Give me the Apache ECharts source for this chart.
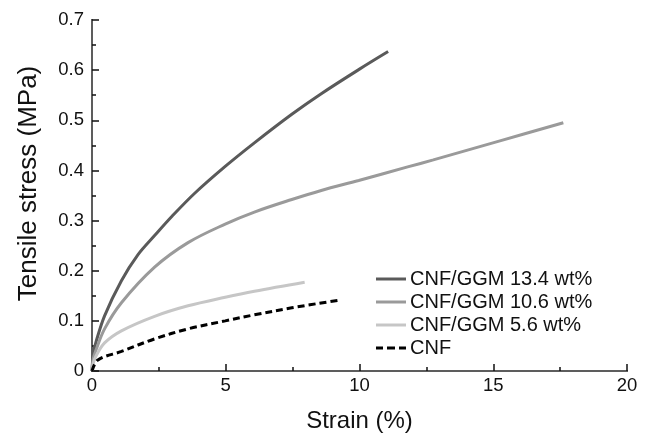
<!DOCTYPE html>
<html>
<head>
<meta charset="utf-8">
<script src="https://cdn.jsdelivr.net/npm/echarts@6/dist/echarts.min.js"></script>
<style>
  html, body { margin: 0; padding: 0; background: #fff; }
  #main { width: 646px; height: 438px; }
</style>
</head>
<body>
<div id="main"></div>
<script>
// 数据
var names = ["CNF/GGM 13.4 wt%", "CNF/GGM 10.6 wt%", "CNF/GGM 5.6 wt%", "CNF"];

var strain134 = [0, 0.05, 0.15, 0.47, 1.1, 1.72, 2.34, 3.0, 3.83, 4.98, 6.07, 7.47, 8.57, 9.97, 11.07];
var stress134 = [0, 0.035, 0.058, 0.11, 0.18, 0.232, 0.27, 0.309, 0.354, 0.408, 0.455, 0.512, 0.553, 0.601, 0.637];

var strain106 = [0, 0.05, 0.15, 0.47, 1.1, 2.34, 3.59, 4.98, 6.07, 7.47, 8.57, 9.97, 11.8, 12.76, 15.25, 17.62];
var stress106 = [0, 0.025, 0.042, 0.084, 0.136, 0.207, 0.256, 0.293, 0.317, 0.342, 0.36, 0.38, 0.407, 0.421, 0.459, 0.495];

var strain56 = [0, 0.05, 0.15, 0.47, 1.1, 2.34, 3.59, 4.98, 6.07, 7.95];
var stress56 = [0, 0.016, 0.03, 0.056, 0.08, 0.109, 0.13, 0.147, 0.159, 0.177];

var strainCNF = [0, 0.22, 1.1, 2.34, 3.59, 4.98, 6.07, 7.47, 9.2];
var stressCNF = [0, 0.022, 0.039, 0.064, 0.084, 0.1, 0.112, 0.126, 0.141];

var lineColors = ["#5a5a5a", "#9a9a9a", "#c6c6c6", "#000000"];

function pairs(xs, ys) {
  var out = [];
  for (var i = 0; i < xs.length; i++) out.push([xs[i], ys[i]]);
  return out;
}

var myChart = echarts.init(document.getElementById("main"));

var font = "Liberation Sans, Arial, sans-serif";

// 图例图标：实线和虚线
var solidIcon = "path://M0,0h30v3h-30z";
var dashIcon = "path://M0,0h7v3h-7z M11,0h8v3h-8z M23,0h7v3h-7z";

function makeSeries(i, xs, ys, dash) {
  return {
    name: names[i],
    type: "line",
    symbol: "none",
    smooth: 0.35,
    data: pairs(xs, ys),
    lineStyle: { color: lineColors[i], width: 3, type: dash || "solid" },
    itemStyle: { color: lineColors[i] }
  };
}

var option = {
  backgroundColor: "#fff",
  animation: false,
  grid: { left: 92, right: 19, top: 20, bottom: 62 },
  legend: {
    orient: "vertical",
    left: 371,
    top: 264,
    itemWidth: 30,
    itemHeight: 3,
    itemGap: 3,
    textStyle: { fontFamily: font, fontSize: 20, color: "#111", padding: [0, 0, 0, -1] },
    data: [
      { name: names[0], icon: solidIcon },
      { name: names[1], icon: solidIcon },
      { name: names[2], icon: solidIcon },
      { name: names[3], icon: dashIcon }
    ]
  },
  xAxis: [
    {
      type: "value",
      min: 0,
      max: 20,
      interval: 5,
      name: "Strain (%)",
      nameLocation: "middle",
      nameGap: 38,
      nameTextStyle: { fontFamily: font, fontSize: 24, color: "#111" },
      axisLine: { lineStyle: { color: "#111", width: 2 } },
      axisTick: { inside: true, length: 7, lineStyle: { color: "#111", width: 1.5 } },
      minorTick: { show: true, splitNumber: 2, length: 4, lineStyle: { color: "#111", width: 1.5 } },
      axisLabel: { fontFamily: font, fontSize: 18.5, color: "#111", margin: 5 },
      splitLine: { show: false }
    },
    {
      type: "value",
      position: "top",
      min: 0,
      max: 20,
      axisLine: { show: true, lineStyle: { color: "#777", width: 1.5 } },
      axisTick: { show: false },
      axisLabel: { show: false },
      splitLine: { show: false }
    }
  ],
  yAxis: [
    {
      type: "value",
      min: 0,
      max: 0.7,
      interval: 0.1,
      name: "Tensile stress (MPa)",
      nameLocation: "middle",
      nameGap: 50,
      nameTextStyle: { fontFamily: font, fontSize: 26, color: "#111", padding: [0, 0, 0, 24] },
      axisLine: { show: true, lineStyle: { color: "#111", width: 2 } },
      axisTick: { inside: true, length: 7, lineStyle: { color: "#111", width: 1.5 } },
      minorTick: { show: true, splitNumber: 2, length: 4, lineStyle: { color: "#111", width: 1.5 } },
      axisLabel: {
        fontFamily: font,
        fontSize: 18.5,
        color: "#111",
        margin: 8,
        formatter: function (v) { return v === 0 ? "0" : v.toFixed(1); }
      },
      splitLine: { show: false }
    },
    {
      type: "value",
      position: "right",
      min: 0,
      max: 0.7,
      axisLine: { show: true, lineStyle: { color: "#777", width: 1.5 } },
      axisTick: { show: false },
      axisLabel: { show: false },
      splitLine: { show: false }
    }
  ],
  series: [
    makeSeries(0, strain134, stress134),
    makeSeries(1, strain106, stress106),
    makeSeries(2, strain56, stress56),
    makeSeries(3, strainCNF, stressCNF, [7, 4])
  ]
};

myChart.setOption(option);
</script>
</body>
</html>
